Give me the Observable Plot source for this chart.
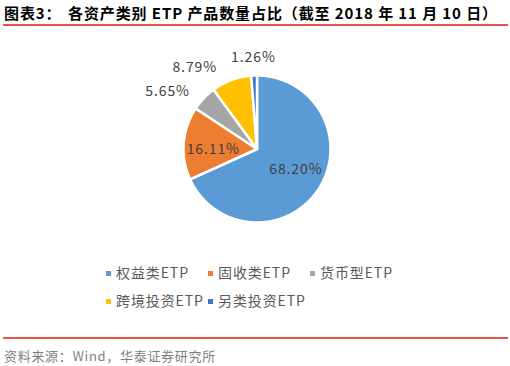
<!DOCTYPE html>
<html><head><meta charset="utf-8">
<script src="https://cdn.jsdelivr.net/npm/d3@7"></script>
<script src="https://cdn.jsdelivr.net/npm/@observablehq/plot@0.6"></script>
<style>
body{margin:0;background:#fff;font-family:"Noto Sans CJK SC","Noto Sans",sans-serif;}
#wrap{position:relative;width:510px;height:366px;overflow:hidden;background:#fff;}
#chart{position:absolute;left:0;top:0;}
#chart text{letter-spacing:0.9px;}
#title{position:absolute;left:4px;top:2px;font-size:15px;font-weight:bold;color:#000;white-space:nowrap;line-height:22px;letter-spacing:0.9px;}
#title .t2{position:absolute;left:64px;top:0;}
.rule{position:absolute;left:3px;width:505px;height:1.5px;background:#e4574a;}
#legend{position:absolute;left:106px;top:262px;width:320px;font-size:14px;color:#595959;letter-spacing:0.9px;}
.item{position:absolute;white-space:nowrap;line-height:20px;}
.sw{display:inline-block;width:5px;height:5px;margin-right:5px;vertical-align:middle;position:relative;top:-1px;}
#source{position:absolute;left:4px;top:347px;font-size:13px;color:#7f7f7f;letter-spacing:0.7px;white-space:nowrap;line-height:18px;}
</style></head><body>
<div id="wrap">
  <div id="title"><span>图表3：</span><span class="t2">各资产类别 ETP 产品数量占比（截至 2018 年 11 月 10 日）</span></div>
  <div class="rule" style="top:24px"></div>
  <div id="chart"></div>
  <div id="legend"></div>
  <div class="rule" style="top:337px"></div>
  <div id="source">资料来源：Wind，华泰证券研究所</div>
</div>
<script>
// ---- data ----
const categories = ["权益类ETP", "固收类ETP", "货币型ETP", "跨境投资ETP", "另类投资ETP"];
const shares = [68.20, 16.11, 5.65, 8.79, 1.26];
const labels = ["68.20%", "16.11%", "5.65%", "8.79%", "1.26%"];
const colors = ["#5B9BD5", "#ED7D31", "#A5A5A5", "#FFC000", "#4472C4"];

// ---- layout ----
const W = 510, H = 366;
const R = 73.5, CX = 256.5, CY = 148.5;
const LABEL_SIZE = 14;
const INSIDE_R = 0.595, INSIDE_TURN = -5.5 * Math.PI / 180;

const arcs = d3.pie().sort(null).value(d => d)(shares);

// slice polygons (unit circle coordinates, angle clockwise from 12 o'clock)
const slicePts = [];
arcs.forEach((a, i) => {
  const n = Math.max(2, Math.ceil((a.endAngle - a.startAngle) / 0.01));
  slicePts.push({name: categories[i], x: 0, y: 0});
  for (let k = 0; k <= n; k++) {
    const t = a.startAngle + (a.endAngle - a.startAngle) * k / n;
    slicePts.push({name: categories[i], x: Math.sin(t), y: Math.cos(t)});
  }
});

// label placement
const ctx = document.createElement("canvas").getContext("2d");
ctx.font = `${LABEL_SIZE}px "Noto Sans CJK SC"`;
const labelData = [];
const placed = [];
const order = arcs.map((a, i) => i).sort((p, q) => arcs[q].endAngle - arcs[p].endAngle);
for (const i of order) {
  const a = arcs[i];
  const mid = (a.startAngle + a.endAngle) / 2;
  if (shares[i] >= 10) {
    const t = mid + INSIDE_TURN;
    labelData.push({text: labels[i], x: INSIDE_R * Math.sin(t), y: INSIDE_R * Math.cos(t)});
    continue;
  }
  const w = (ctx.measureText(labels[i]).width + 0.9 * labels[i].length) / R, h = LABEL_SIZE / R;
  const at = (t) => {
    const d = 1.14 + Math.abs(Math.sin(t)) * w / 2 + Math.abs(Math.cos(t)) * h / 2;
    return {x: d * Math.sin(t), y: d * Math.cos(t), w, h};
  };
  const overlaps = (b) => placed.some(p =>
    Math.abs(p.x - b.x) < (p.w + b.w) / 2 + 14 / R && Math.abs(p.y - b.y) < (p.h + b.h) / 2 + 10 / R);
  let t = mid, box = at(t);
  while (overlaps(box) && t > mid - 0.6) { t -= 0.005; box = at(t); }
  placed.push(box);
  labelData.push({text: labels[i], x: box.x, y: box.y});
}

const chart = Plot.plot({
  width: W, height: H, margin: 0,
  style: {background: "transparent", fontFamily: '"Noto Sans CJK SC", sans-serif'},
  x: {domain: [-CX / R, (W - CX) / R], axis: null},
  y: {domain: [-(H - CY) / R, CY / R], axis: null},
  color: {domain: categories, range: colors},
  marks: [
    Plot.line(slicePts, {x: "x", y: "y", z: "name", fill: "name", stroke: "white",
      strokeWidth: 2.5, strokeLinejoin: "round", curve: "linear-closed"}),
    Plot.text(labelData, {x: "x", y: "y", text: "text", fontSize: LABEL_SIZE, fill: "#404040"})
  ]
});
document.getElementById("chart").appendChild(chart);

// legend
const legendPos = [[0, 0], [102, 0], [204, 0], [0, 28], [102, 28]];
const legend = document.getElementById("legend");
categories.forEach((c, i) => {
  const it = document.createElement("div");
  it.className = "item";
  it.style.left = legendPos[i][0] + "px";
  it.style.top = legendPos[i][1] + "px";
  it.innerHTML = `<span class="sw" style="background:${colors[i]}"></span>${c}`;
  legend.appendChild(it);
});
</script>
</body></html>
